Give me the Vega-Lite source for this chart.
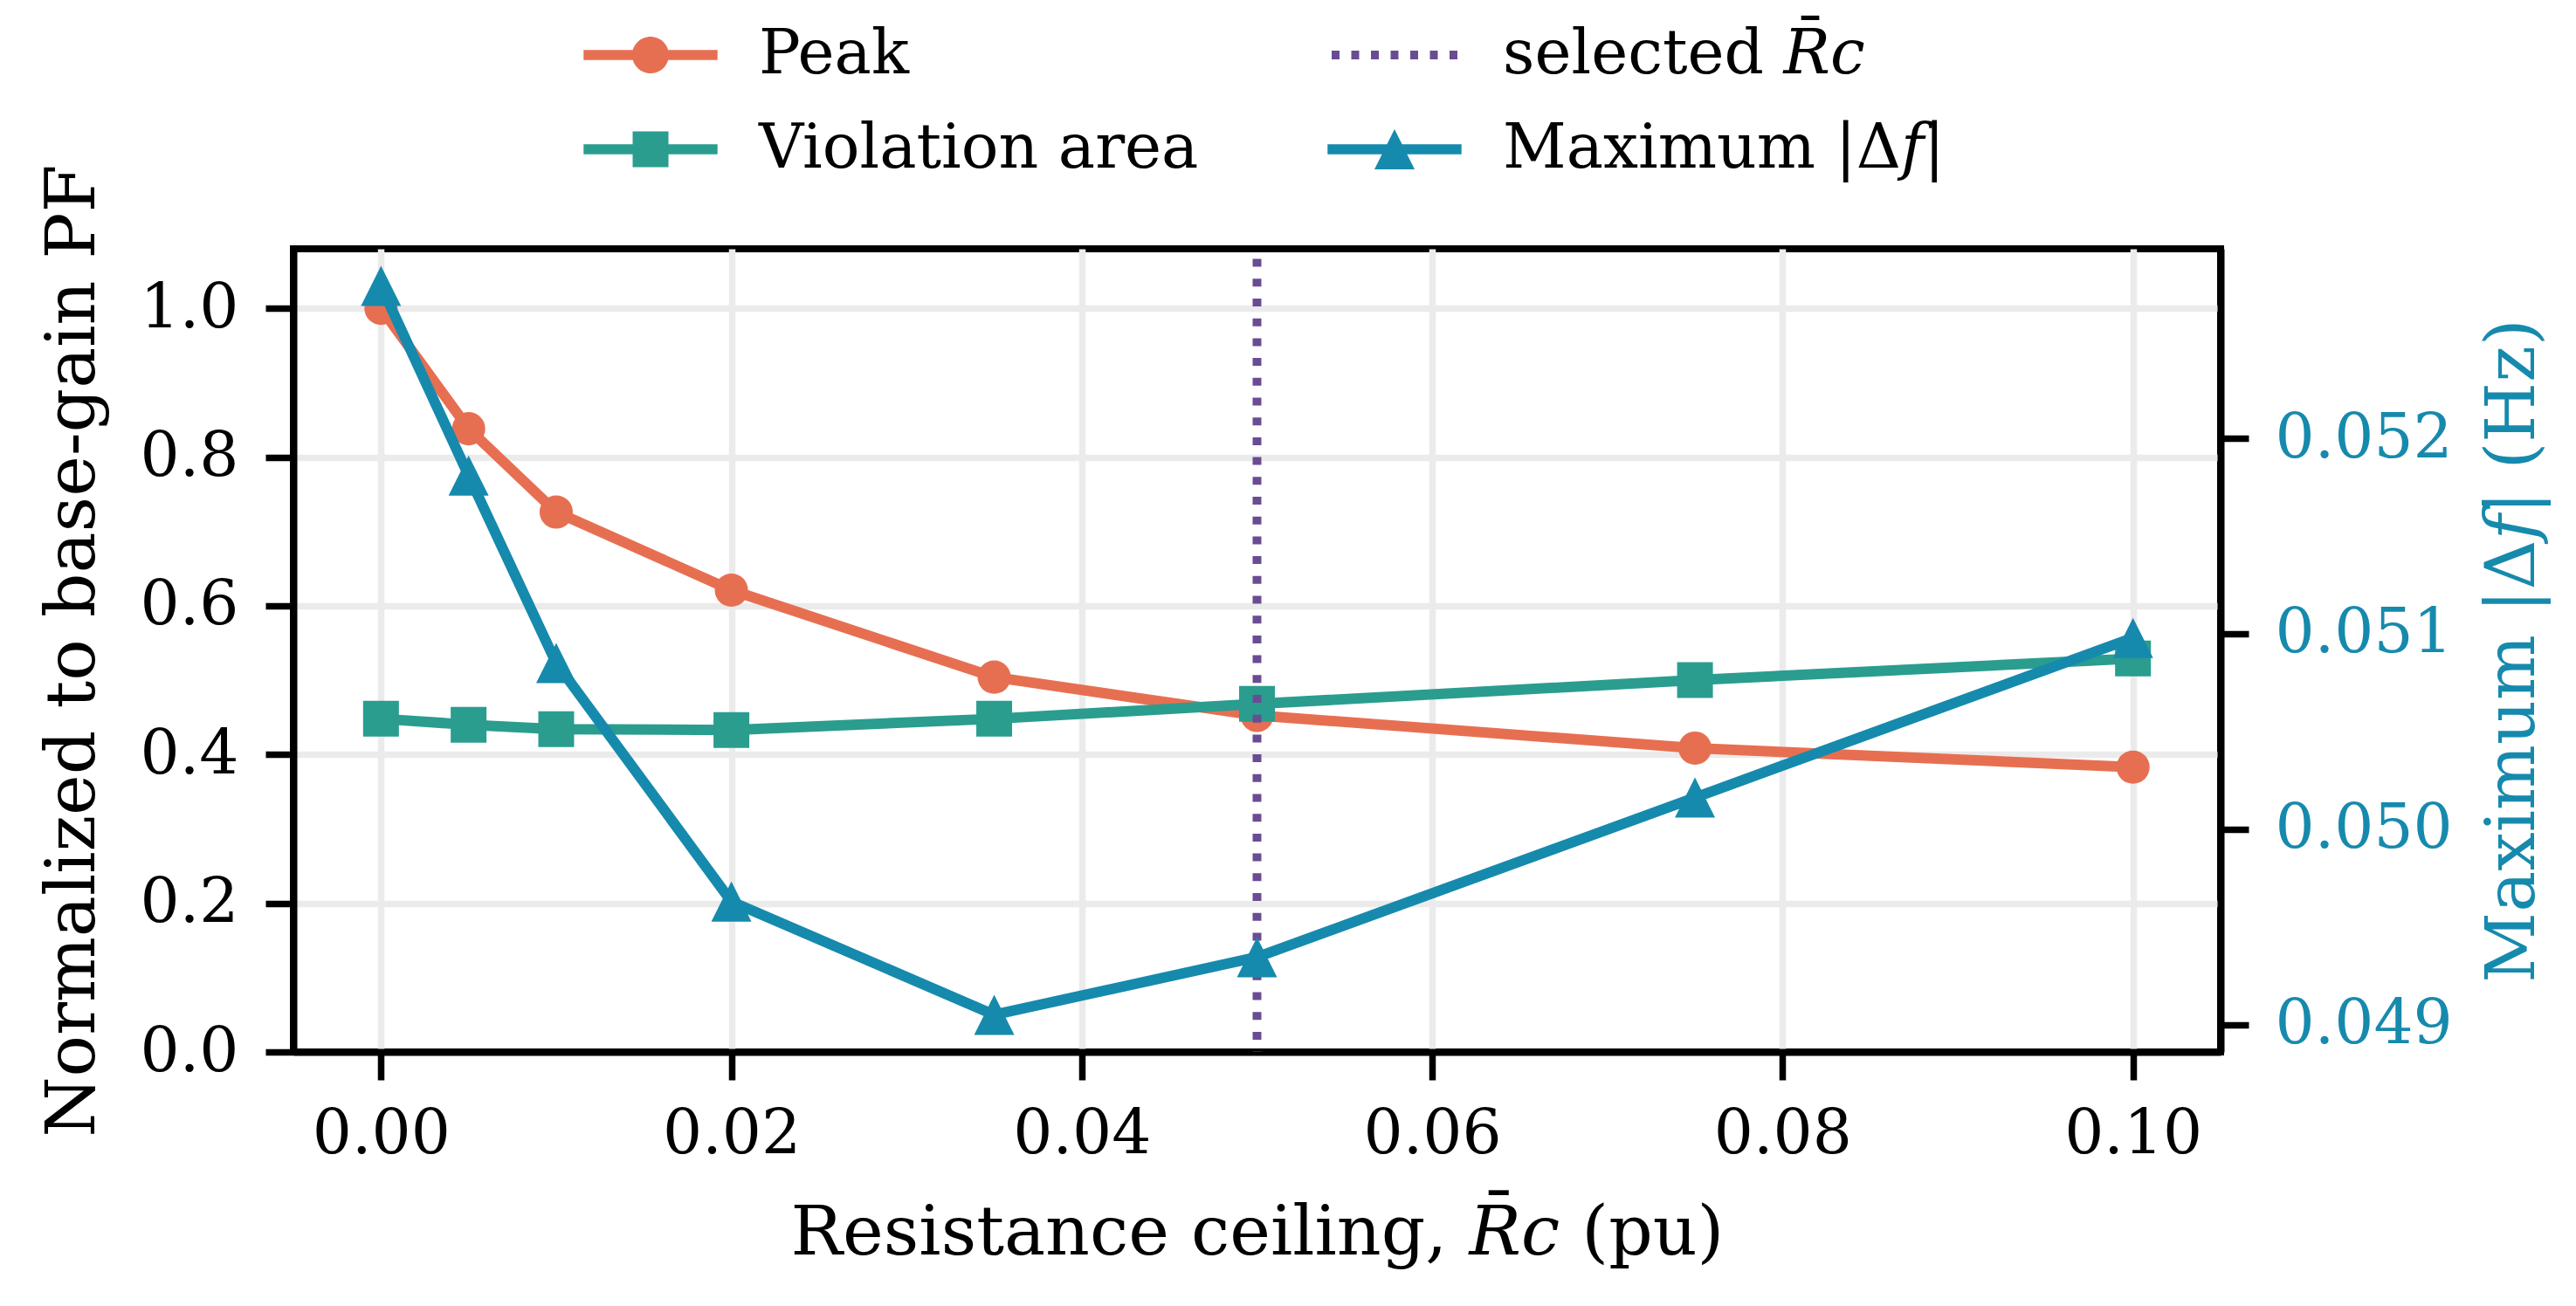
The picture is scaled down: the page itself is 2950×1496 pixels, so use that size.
{
  "$schema": "https://vega.github.io/schema/vega-lite/v6.json",
  "width": 2207,
  "height": 920,
  "autosize": {"type": "none"},
  "padding": {"left": 336, "top": 285, "right": 407, "bottom": 291},
  "background": "white",
  "data": {
    "values": [
      {"R": 0.0, "peak": 1.0, "viol": 0.448, "maxdf": 0.05278},
      {"R": 0.005, "peak": 0.838, "viol": 0.44, "maxdf": 0.05181},
      {"R": 0.01, "peak": 0.726, "viol": 0.434, "maxdf": 0.05085},
      {"R": 0.02, "peak": 0.621, "viol": 0.433, "maxdf": 0.04963},
      {"R": 0.035, "peak": 0.504, "viol": 0.448, "maxdf": 0.04905},
      {"R": 0.05, "peak": 0.4525, "viol": 0.468, "maxdf": 0.049345},
      {"R": 0.075, "peak": 0.4086, "viol": 0.5, "maxdf": 0.050162},
      {"R": 0.1, "peak": 0.383, "viol": 0.529, "maxdf": 0.050979}
    ]
  },
  "encoding": {
    "x": {
      "field": "R",
      "type": "quantitative",
      "scale": {"domain": [-0.005, 0.105], "nice": false, "zero": false},
      "axis": {
        "values": [0, 0.02, 0.04, 0.06, 0.08, 0.1],
        "format": ".2f",
        "labelPadding": 27,
        "titlePadding": 40,
        "title": "Resistance ceiling, 𝑅̄𝑐 (pu)"
      }
    }
  },
  "layer": [
    {
      "encoding": {
        "y": {
          "type": "quantitative",
          "scale": {"domain": [0, 1.08], "nice": false, "zero": false},
          "axis": {
            "orient": "left",
            "values": [0, 0.2, 0.4, 0.6, 0.8, 1.0],
            "format": ".1f",
            "labelPadding": 31,
            "titlePadding": 36,
            "gridOpacity": {"condition": {"test": "datum.value === 0", "value": 0}, "value": 1},
            "title": "Normalized to base-gain PF"
          }
        }
      },
      "layer": [
        {
          "mark": {"type": "line", "strokeWidth": 12, "strokeJoin": "round"},
          "encoding": {
            "y": {"field": "peak", "title": "Normalized to base-gain PF"},
            "color": {
              "datum": "Peak",
              "type": "nominal",
              "scale": {
                "domain": ["Peak", "Violation area", "selected 𝑅̄𝑐", "Maximum |Δ𝑓|"],
                "range": ["#e76f51", "#2a9d8f", "#6a4c93", "#168aad"]
              },
              "legend": {
                "orient": "none",
                "legendX": 369,
                "legendY": -262,
                "columns": 2,
                "title": null,
                "encode": {
                  "symbols": {
                    "update": {
                      "shape": {"signal": "datum.value === 'Peak' ? 'M-1.9175,-0.146H1.9175V0.146H-1.9175Z M-0.525,0A0.525,0.525,0,1,1,0.525,0A0.525,0.525,0,1,1,-0.525,0Z' : datum.value === 'Violation area' ? 'M-1.9175,-0.146H1.9175V0.146H-1.9175Z M-0.5125,-0.5125H0.5125V0.5125H-0.5125Z' : datum.value === 'Maximum |Δ𝑓|' ? 'M-1.9175,-0.146H1.9175V0.146H-1.9175Z M0,-0.575L0.575,0.575L-0.575,0.575Z' : 'M-1.8,-0.125H-1.575V0.125H-1.8Z M-1.2375,-0.125H-1.0125V0.125H-1.2375Z M-0.675,-0.125H-0.45V0.125H-0.675Z M-0.1125,-0.125H0.1125V0.125H-0.1125Z M0.45,-0.125H0.675V0.125H0.45Z M1.0125,-0.125H1.2375V0.125H1.0125Z M1.575,-0.125H1.8V0.125H1.575Z'"},
                      "fill": {"scale": "color", "field": "value"},
                      "stroke": {"value": "transparent"},
                      "strokeWidth": {"value": 0},
                      "opacity": {"value": 1},
                      "fillOpacity": {"value": 1}
                    }
                  }
                }
              }
            }
          }
        },
        {
          "mark": {"type": "point", "filled": true, "shape": "circle", "size": 1452, "opacity": 1},
          "encoding": {
            "y": {"field": "peak", "title": "Normalized to base-gain PF"},
            "color": {"datum": "Peak", "type": "nominal"}
          }
        },
        {
          "mark": {"type": "line", "strokeWidth": 12, "strokeJoin": "round"},
          "encoding": {
            "y": {"field": "viol", "title": "Normalized to base-gain PF"},
            "color": {"datum": "Violation area", "type": "nominal"}
          }
        },
        {
          "mark": {"type": "point", "filled": true, "shape": "square", "size": 1681, "opacity": 1},
          "encoding": {
            "y": {"field": "viol", "title": "Normalized to base-gain PF"},
            "color": {"datum": "Violation area", "type": "nominal"}
          }
        },
        {
          "data": {"values": [{"R": 0.05}]},
          "mark": {"type": "rule", "strokeWidth": 10, "strokeDash": [9, 13.7], "strokeDashOffset": 11.1, "strokeCap": "butt"},
          "encoding": {
            "color": {"datum": "selected 𝑅̄𝑐", "type": "nominal"}
          }
        }
      ]
    },
    {
      "encoding": {
        "y": {
          "field": "maxdf",
          "type": "quantitative",
          "scale": {"domain": [0.04886, 0.05297], "nice": false, "zero": false},
          "axis": {
            "orient": "right",
            "values": [0.049, 0.05, 0.051, 0.052],
            "format": ".3f",
            "grid": false,
            "labelPadding": 30,
            "titlePadding": 96,
            "labelColor": "#168aad",
            "titleColor": "#168aad",
            "titleAngle": 270,
            "titleBaseline": "top",
            "title": "Maximum |Δ𝑓| (Hz)"
          }
        }
      },
      "layer": [
        {
          "mark": {"type": "line", "strokeWidth": 12, "strokeJoin": "round"},
          "encoding": {"color": {"datum": "Maximum |Δ𝑓|", "type": "nominal"}}
        },
        {
          "mark": {"type": "point", "filled": true, "shape": "M0,-1L1,1L-1,1Z", "size": 2116, "opacity": 1},
          "encoding": {"color": {"datum": "Maximum |Δ𝑓|", "type": "nominal"}}
        }
      ]
    }
  ],
  "resolve": {"scale": {"y": "independent"}},
  "config": {
    "font": "DejaVu Serif",
    "view": {"stroke": "black", "strokeWidth": 8},
    "axis": {
      "labelFont": "DejaVu Serif",
      "titleFont": "DejaVu Serif",
      "labelFontSize": 71,
      "titleFontSize": 79,
      "titleFontWeight": "normal",
      "labelColor": "black",
      "titleColor": "black",
      "tickColor": "black",
      "tickSize": 32,
      "tickWidth": 7.5,
      "domain": true,
      "domainColor": "black",
      "domainWidth": 8,
      "grid": true,
      "gridColor": "#ebebeb",
      "gridWidth": 7.5,
      "labelFlush": false,
      "labelOverlap": false,
      "labelLimit": 600,
      "titleLimit": 3000
    },
    "legend": {
      "labelFont": "DejaVu Serif",
      "labelFontSize": 71,
      "labelColor": "black",
      "labelLimit": 1200,
      "padding": 0,
      "symbolSize": 6400,
      "labelOffset": 84,
      "columnPadding": 147,
      "rowPadding": 33
    }
  }
}
